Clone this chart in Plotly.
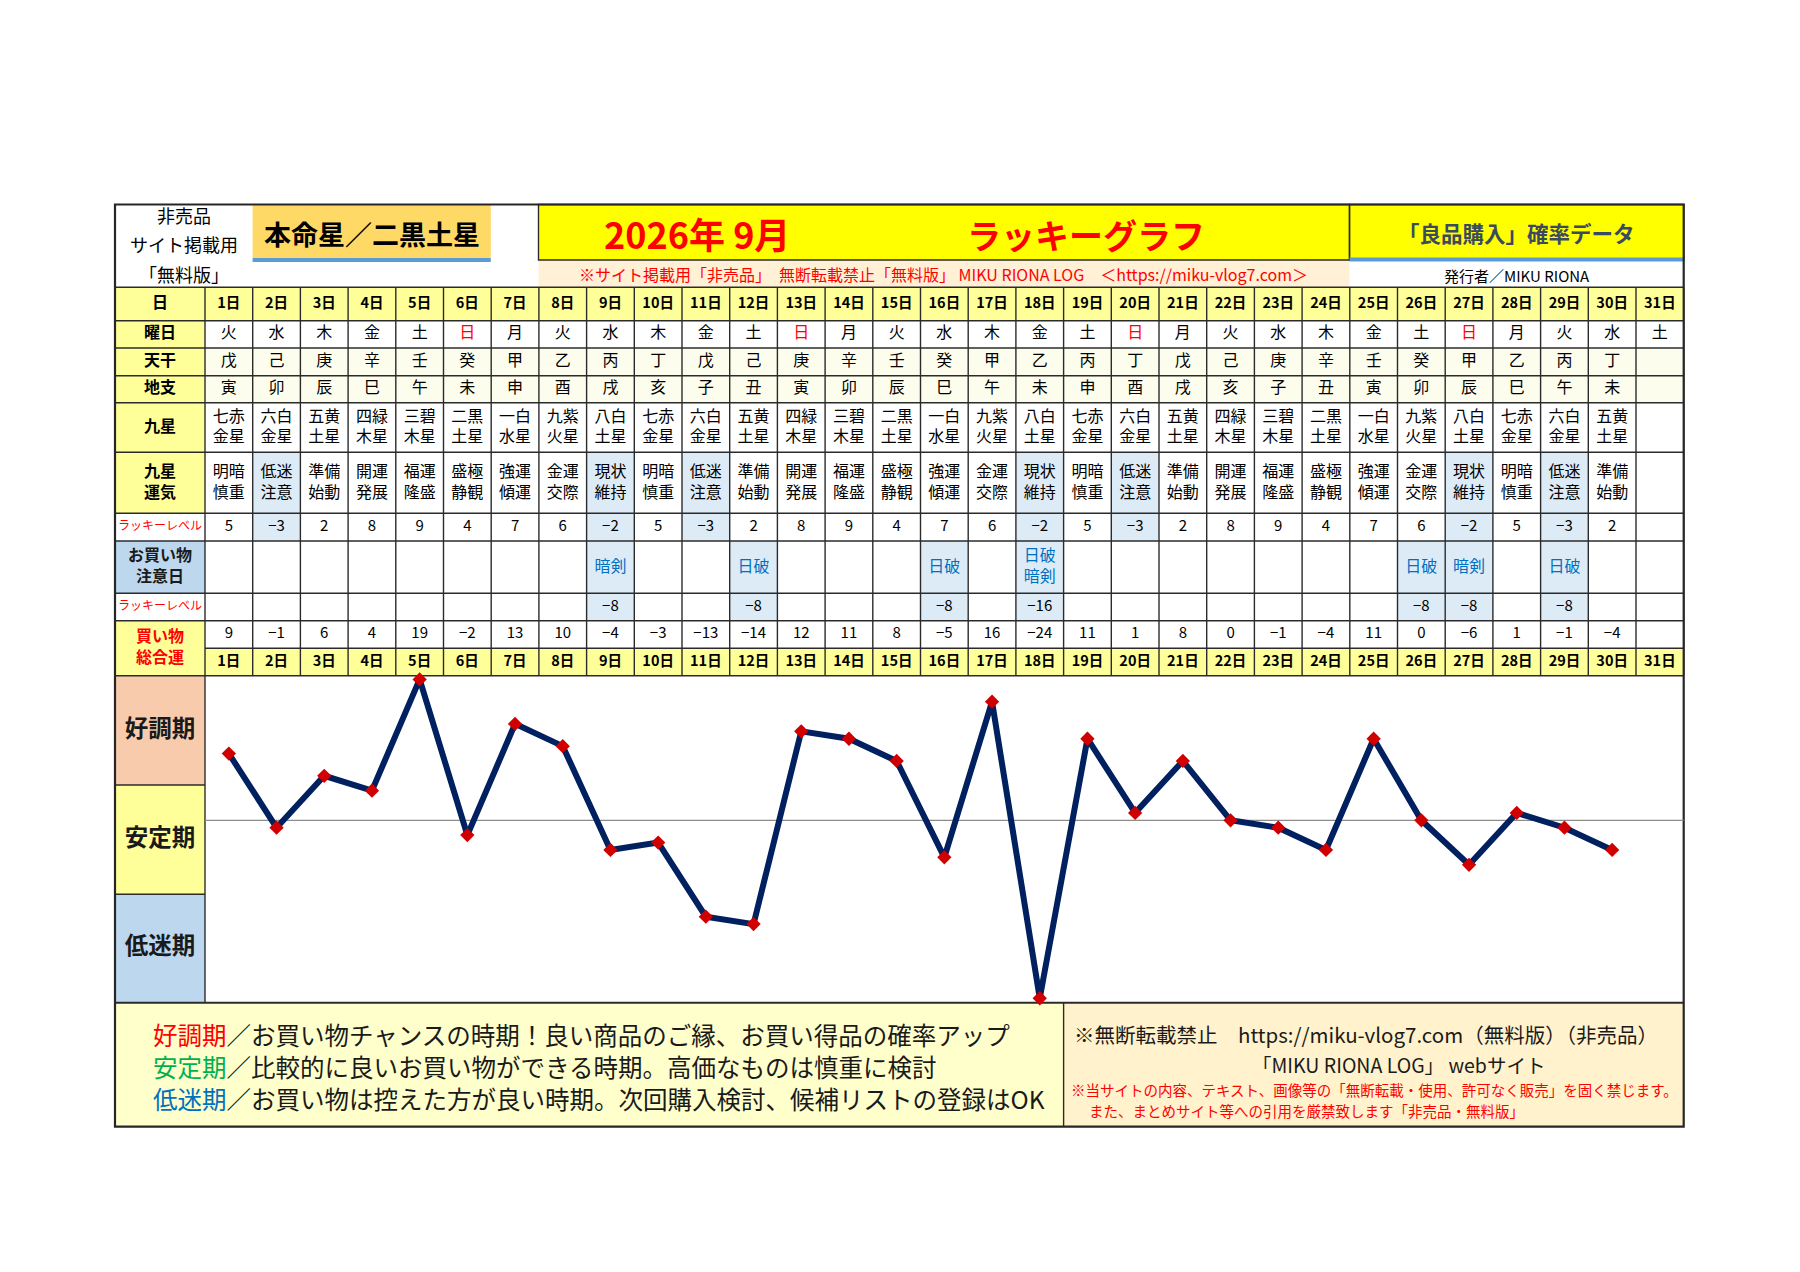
import plotly.graph_objects as go

# ---------------- data ----------------
days = list(range(1, 32))
weekdays = ["火", "水", "木", "金", "土", "日", "月", "火", "水", "木", "金", "土", "日", "月", "火",
            "水", "木", "金", "土", "日", "月", "火", "水", "木", "金", "土", "日", "月", "火", "水", "土"]
tenkan = ["戊", "己", "庚", "辛", "壬", "癸", "甲", "乙", "丙", "丁", "戊", "己", "庚", "辛", "壬",
          "癸", "甲", "乙", "丙", "丁", "戊", "己", "庚", "辛", "壬", "癸", "甲", "乙", "丙", "丁", ""]
chishi = ["寅", "卯", "辰", "巳", "午", "未", "申", "酉", "戌", "亥", "子", "丑", "寅", "卯", "辰",
          "巳", "午", "未", "申", "酉", "戌", "亥", "子", "丑", "寅", "卯", "辰", "巳", "午", "未", ""]
kyusei = ["七赤金星", "六白金星", "五黄土星", "四緑木星", "三碧木星", "二黒土星", "一白水星", "九紫火星",
          "八白土星", "七赤金星", "六白金星", "五黄土星", "四緑木星", "三碧木星", "二黒土星", "一白水星",
          "九紫火星", "八白土星", "七赤金星", "六白金星", "五黄土星", "四緑木星", "三碧木星", "二黒土星",
          "一白水星", "九紫火星", "八白土星", "七赤金星", "六白金星", "五黄土星", ""]
unki = ["明暗慎重", "低迷注意", "準備始動", "開運発展", "福運隆盛", "盛極静観", "強運傾運", "金運交際",
        "現状維持", "明暗慎重", "低迷注意", "準備始動", "開運発展", "福運隆盛", "盛極静観", "強運傾運",
        "金運交際", "現状維持", "明暗慎重", "低迷注意", "準備始動", "開運発展", "福運隆盛", "盛極静観",
        "強運傾運", "金運交際", "現状維持", "明暗慎重", "低迷注意", "準備始動", ""]
lucky = [5, -3, 2, 8, 9, 4, 7, 6, -2, 5, -3, 2, 8, 9, 4, 7, 6, -2, 5, -3, 2, 8, 9, 4, 7, 6, -2, 5, -3, 2, None]
caution = ["", "", "", "", "", "", "", "", "暗剣", "", "", "日破", "", "", "", "日破", "", "日破 暗剣",
           "", "", "", "", "", "", "", "日破", "暗剣", "", "日破", "", ""]
lucky2 = [None, None, None, None, None, None, None, None, -8, None, None, -8, None, None, None, -8, None, -16,
          None, None, None, None, None, None, None, -8, -8, None, -8, None, None]
total = [9, -1, 6, 4, 19, -2, 13, 10, -4, -3, -13, -14, 12, 11, 8, -5, 16, -24, 11, 1, 8, 0, -1, -4,
         11, 0, -6, 1, -1, -4, None]
band_labels = ["好調期", "安定期", "低迷期"]

# ---------------- layout constants ----------------
FONT = "Noto Sans CJK JP"
W, H = 1800, 1272
X0, CW = 205.0, 47.7
XL = 115.0
XR = X0 + 31 * CW
HT = 204.5
CH_TOP, CH_BOT = 675.7, 1002.7
FT_BOT = 1126.7
FT_DIV = X0 + 18 * CW


def xd(px):
    return (px - X0) / CW + 0.5


rows = dict(day=(287.3, 320.7), youbi=(320.7, 348.0), tenkan=(348.0, 375.7), chishi=(375.7, 402.7),
            kyusei=(402.7, 452.3), unki=(452.3, 513.3), lucky=(513.3, 541.0), chui=(541.0, 593.3),
            lucky2=(593.3, 620.7), sogo=(620.7, 648.3), day2=(648.3, 675.7))

fig = go.Figure()
shapes = []


def rect(x0, y0, x1, y1, fill, lc=None, lw=0):
    shapes.append(dict(type="rect", xref="x", yref="y", x0=xd(x0), x1=xd(x1), y0=y0, y1=y1,
                       fillcolor=fill, line=dict(color=lc or "rgba(0,0,0,0)", width=lw), layer="below"))


def line(x0, y0, x1, y1, color="#2b2b2b", width=1.4):
    shapes.append(dict(type="line", xref="x", yref="y", x0=xd(x0), x1=xd(x1), y0=y0, y1=y1,
                       line=dict(color=color, width=width), layer="below"))


YEL = "#FFFF99"
SHADE = "#DDEBF7"
CREAM = "#FDFDEE"

# header fills
rect(252.6, 205, 490.8, 258, "#FFD966")
rect(252.6, 258, 490.8, 262, "#5B9BD5")
rect(538.5, 205, 1349.5, 260, "#FFFF00")
rect(1349.5, 205, XR, 260, "#FFFF00")
rect(538.5, 260, 1349.5, 287.3, "#FFF0D6")

# label column fills
for key in ["day", "youbi", "tenkan", "chishi", "kyusei", "unki"]:
    rect(XL, rows[key][0], X0, rows[key][1], YEL)
rect(XL, rows["chui"][0], X0, rows["chui"][1], "#BDD7EE")
rect(XL, rows["sogo"][0], X0, rows["day2"][1], YEL)

# cell fills
for i, d in enumerate(days):
    cx0, cx1 = X0 + i * CW, X0 + (i + 1) * CW
    rect(cx0, rows["day"][0], cx1, rows["day"][1], YEL)
    rect(cx0, rows["day2"][0], cx1, rows["day2"][1], YEL)
    rect(cx0, rows["tenkan"][0], cx1, rows["tenkan"][1], CREAM)
    rect(cx0, rows["chishi"][0], cx1, rows["chishi"][1], CREAM)
    if lucky[i] is not None and lucky[i] < 0:
        rect(cx0, rows["unki"][0], cx1, rows["lucky"][1], SHADE)
    if caution[i]:
        rect(cx0, rows["chui"][0], cx1, rows["lucky2"][1], SHADE)

# chart bands
band_edges = [CH_TOP, 785.0, 894.3, CH_BOT]
band_cols = ["#F8CBAD", "#FFFF99", "#BDD7EE"]
for k in range(3):
    rect(XL, band_edges[k], X0, band_edges[k + 1], band_cols[k])

# footer fills
rect(XL, CH_BOT, FT_DIV, FT_BOT, "#FFFFCC")
rect(FT_DIV, CH_BOT, XR, FT_BOT, "#FFF2CC")

# grid lines
line(XL, 287.3, XR, 287.3)
for key in ["youbi", "tenkan", "chishi", "kyusei", "unki", "lucky", "chui", "lucky2", "sogo"]:
    line(XL, rows[key][0], XR, rows[key][0])
line(X0, rows["day2"][0], XR, rows["day2"][0])
line(XL, CH_TOP, XR, CH_TOP)
for k in range(0, 32):
    xx = X0 + k * CW
    line(xx, 287.3, xx, CH_TOP if k > 0 else CH_BOT)
for y in band_edges[1:3]:
    line(XL, y, X0, y)
line(XL, CH_BOT, XR, CH_BOT, width=2)
line(FT_DIV, CH_BOT, FT_DIV, FT_BOT)
# header boxes
rect(538.5, HT, 1349.5, 260, "rgba(0,0,0,0)", "#2b2b2b", 1.4)
rect(1349.5, HT, XR, 260, "rgba(0,0,0,0)", "#2b2b2b", 1.4)
rect(1349.5, 257.5, XR, 261.5, "#5B9BD5")
# outer border
rect(XL, HT, XR, FT_BOT, "rgba(0,0,0,0)", "#262626", 2.2)

# zero line of chart (on chart axis)
shapes.append(dict(type="line", xref="x", yref="y2", x0=0.5, x1=31.5, y0=0, y1=0,
                   line=dict(color="#8c8c8c", width=1.2), layer="below"))


# ---------------- text ----------------
def txt(xs, ys, texts, size, color="#000000", bold=False):
    if bold:
        texts = [f"<b>{t}</b>" if t else "" for t in texts]
    fig.add_trace(go.Scatter(x=xs, y=ys, mode="text", text=texts, textposition="middle center",
                             textfont=dict(family=FONT, size=size, color=color),
                             hoverinfo="skip", showlegend=False, cliponaxis=False, xaxis="x", yaxis="y"))


def num(v):
    return "" if v is None else str(v).replace("-", "−")


def two(s):
    return f"{s[:2]}<br>{s[2:]}" if s else ""


n = len(days)
day_labels = [f"{d}日" for d in days]
txt(days, [304.0] * n, day_labels, 14.5, bold=True)
txt(days, [662.0] * n, day_labels, 14.5, bold=True)
txt(days, [334.3] * n, weekdays, 16, color=["#FF0000" if w == "日" else "#000000" for w in weekdays])
txt(days, [361.8] * n, tenkan, 16)
txt(days, [389.2] * n, chishi, 16)
txt(days, [428.0] * n, [two(k) for k in kyusei], 16)
txt(days, [483.5] * n, [two(u) for u in unki], 16)
txt(days, [527.2] * n, [num(v) for v in lucky], 15)
txt(days, [567.5] * n, [c.replace(" ", "<br>") for c in caution], 16, color="#0070C0")
txt(days, [607.0] * n, [num(v) for v in lucky2], 15)
txt(days, [634.5] * n, [num(v) for v in total], 15)

LX = xd((XL + X0) / 2)
txt([LX] * 6, [304.0, 334.3, 361.8, 389.2, 427.5, 483.5],
    ["日", "曜日", "天干", "地支", "九星", "九星<br>運気"], 16, bold=True)
txt([LX, LX], [527.2, 607.0], ["ラッキーレベル", "ラッキーレベル"], 12, color="#FF0000")
txt([LX], [567.5], ["お買い物<br>注意日"], 16, color="#1a1a1a", bold=True)
txt([LX], [648.3], ["買い物<br>総合運"], 16, color="#FF0000", bold=True)
txt([LX] * 3, [731.0, 840.0, 948.3], band_labels, 23.5, color="#1a1a1a", bold=True)

# ---------------- line chart ----------------
cd = [d for d, v in zip(days, total) if v is not None]
cv = [v for v in total if v is not None]
fig.add_trace(go.Scatter(x=cd, y=cv, mode="lines+markers", xaxis="x", yaxis="y2",
                         line=dict(color="#002060", width=6),
                         marker=dict(symbol="diamond", size=11, color="#D00000"),
                         hoverinfo="skip", showlegend=False, cliponaxis=False))

# ---------------- annotations ----------------
ann = []


def note(xpx, ypx, text, size, color="#000000", xanchor="center", align="center"):
    ann.append(dict(x=xd(xpx), y=ypx, xref="x", yref="y", text=text, showarrow=False, align=align,
                    xanchor=xanchor, yanchor="middle", font=dict(family=FONT, size=size, color=color)))


note(184, 215, "非売品", 18)
note(184, 244, "サイト掲載用", 18)
note(184, 274, "「無料版」", 18)
note(371.7, 233, "<b>本命星／二黒土星</b>", 27)
note(697, 233, "<b>2026年 9月</b>", 36, "#FF0000")
note(1086, 234, "<b>ラッキーグラフ</b>", 34, "#FF0000")
note(1516, 232, "<b>「良品購入」確率データ</b>", 21.5, "#3A4A5F")
note(943.6, 274, "※サイト掲載用「非売品」　無断転載禁止「無料版」 MIKU RIONA LOG　＜https://miku-vlog7.com＞",
     16, "#FF0000")
note(1517, 275, "発行者／MIKU RIONA", 15)

footer_left = ("<span style='color:#FF0000'>好調期</span>／お買い物チャンスの時期！良い商品のご縁、お買い得品の確率アップ<br>"
               "<span style='color:#00B050'>安定期</span>／比較的に良いお買い物ができる時期。高価なものは慎重に検討<br>"
               "<span style='color:#0070C0'>低迷期</span>／お買い物は控えた方が良い時期。次回購入検討、候補リストの登録はOK")
note(151, 1066, footer_left, 24.5, "#1a1a1a", "left", "left")
note(1366, 1034, "<b>※</b>無断転載禁止　https://miku-vlog7.com（無料版）（非売品）", 20.5, "#1a1a1a")
note(1398, 1064, "「MIKU RIONA LOG」 webサイト", 19.5, "#1a1a1a")
note(1374, 1089.5, "※当サイトの内容、テキスト、画像等の「無断転載・使用、許可なく販売」を固く禁じます。", 14.5, "#FF0000")
note(1087, 1110.5, "また、まとめサイト等への引用を厳禁致します「非売品・無料版」", 14.5, "#FF0000", "left")

fig.update_layout(
    width=W, height=H, margin=dict(l=0, r=0, t=0, b=0),
    paper_bgcolor="#FFFFFF", plot_bgcolor="rgba(0,0,0,0)",
    xaxis=dict(range=[xd(0), xd(W)], visible=False, fixedrange=True, domain=[0, 1]),
    yaxis=dict(range=[H, 0], visible=False, fixedrange=True, domain=[0, 1]),
    yaxis2=dict(range=[-24.6, 19.5], visible=False, fixedrange=True, anchor="x",
                domain=[1 - CH_BOT / H, 1 - CH_TOP / H]),
    shapes=shapes, annotations=ann, hovermode=False, showlegend=False,
    font=dict(family=FONT),
)

fig.write_html("out.html", config={"displayModeBar": False, "staticPlot": True},
               post_script="document.body.style.margin='0';")
